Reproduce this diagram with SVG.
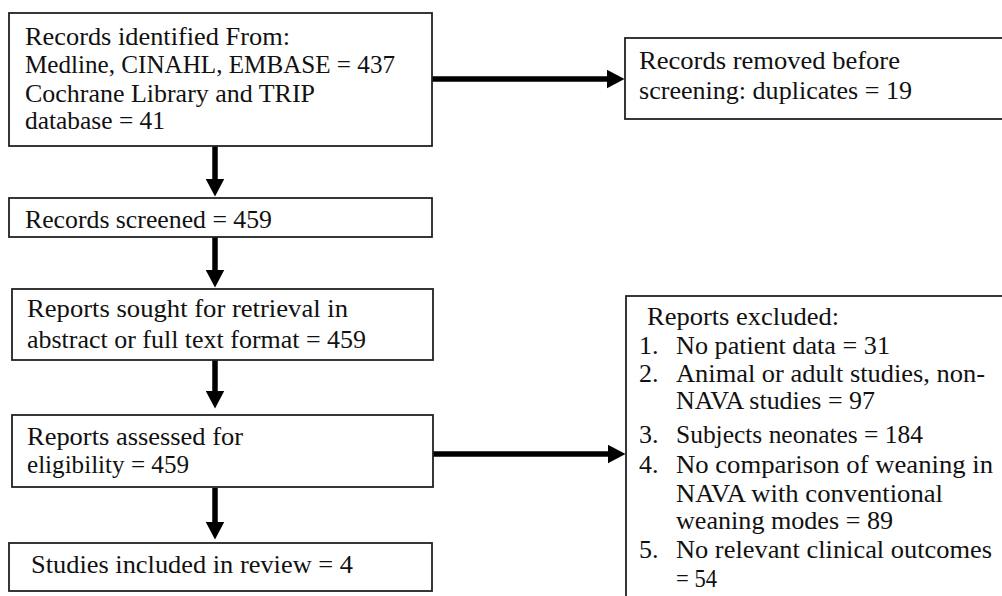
<svg xmlns="http://www.w3.org/2000/svg" width="1002" height="596" viewBox="0 0 1002 596">
<style>
.box{fill:#fff;stroke:#222;stroke-width:1.8}
.t{font-family:"Liberation Serif","Times New Roman",serif;font-size:26px;fill:#111}
.c{stroke:#000;stroke-width:5.5;fill:none}
</style>
<defs>
<marker id="ah" viewBox="0 0 18 19" refX="0.5" refY="9.5" markerWidth="18" markerHeight="19" markerUnits="userSpaceOnUse" orient="auto">
<path d="M0,0 L18,9.5 L0,19 Z" fill="#000"/>
</marker>
</defs>
<rect width="1002" height="596" fill="#fff"/>
<g id="connectors">
<line class="c" x1="215" y1="146" x2="215" y2="179" marker-end="url(#ah)"/>
<line class="c" x1="215" y1="237" x2="215" y2="270" marker-end="url(#ah)"/>
<line class="c" x1="215" y1="360" x2="215" y2="391" marker-end="url(#ah)"/>
<line class="c" x1="215" y1="488" x2="215" y2="522" marker-end="url(#ah)"/>
<line class="c" x1="432" y1="79" x2="607" y2="79" marker-end="url(#ah)"/>
<line class="c" x1="433" y1="454" x2="608" y2="454" marker-end="url(#ah)"/>
</g>
<g id="identified">
<rect class="box" x="9" y="13" width="423" height="133"/>
<text class="t" x="25" y="45" textLength="265" lengthAdjust="spacingAndGlyphs">Records identified From:</text>
<text class="t" x="25" y="73" textLength="370" lengthAdjust="spacingAndGlyphs">Medline, CINAHL, EMBASE = 437</text>
<text class="t" x="25" y="102" textLength="290" lengthAdjust="spacingAndGlyphs">Cochrane Library and TRIP</text>
<text class="t" x="25" y="129" textLength="140" lengthAdjust="spacingAndGlyphs">database = 41</text>
</g>
<g id="removed">
<rect class="box" x="625" y="38" width="390" height="81"/>
<text class="t" x="639" y="69" textLength="261" lengthAdjust="spacingAndGlyphs">Records removed before</text>
<text class="t" x="639" y="99" textLength="273" lengthAdjust="spacingAndGlyphs">screening: duplicates = 19</text>
</g>
<g id="screened">
<rect class="box" x="9" y="198" width="423" height="39"/>
<text class="t" x="25" y="228" textLength="247" lengthAdjust="spacingAndGlyphs">Records screened = 459</text>
</g>
<g id="sought">
<rect class="box" x="12" y="289" width="421" height="71"/>
<text class="t" x="27" y="317" textLength="321" lengthAdjust="spacingAndGlyphs">Reports sought for retrieval in</text>
<text class="t" x="27" y="348" textLength="339" lengthAdjust="spacingAndGlyphs">abstract or full text format = 459</text>
</g>
<g id="assessed">
<rect class="box" x="12" y="415" width="421" height="72"/>
<text class="t" x="27" y="445" textLength="216" lengthAdjust="spacingAndGlyphs">Reports assessed for</text>
<text class="t" x="27" y="473" textLength="162" lengthAdjust="spacingAndGlyphs">eligibility = 459</text>
</g>
<g id="included">
<rect class="box" x="9" y="543" width="423" height="48"/>
<text class="t" x="31" y="573" textLength="322" lengthAdjust="spacingAndGlyphs">Studies included in review = 4</text>
</g>
<g id="excluded">
<rect class="box" x="626" y="296" width="390" height="320"/>
<text class="t" x="647" y="325" textLength="192" lengthAdjust="spacingAndGlyphs">Reports excluded:</text>
<text class="t" x="639" y="354">1.</text>
<text class="t" x="676" y="354" textLength="214" lengthAdjust="spacingAndGlyphs">No patient data = 31</text>
<text class="t" x="639" y="382">2.</text>
<text class="t" x="676" y="382" textLength="309" lengthAdjust="spacingAndGlyphs">Animal or adult studies, non-</text>
<text class="t" x="676" y="409" textLength="199" lengthAdjust="spacingAndGlyphs">NAVA studies = 97</text>
<text class="t" x="639" y="443">3.</text>
<text class="t" x="676" y="443" textLength="247" lengthAdjust="spacingAndGlyphs">Subjects neonates = 184</text>
<text class="t" x="639" y="473">4.</text>
<text class="t" x="676" y="473" textLength="317" lengthAdjust="spacingAndGlyphs">No comparison of weaning in</text>
<text class="t" x="676" y="502" textLength="267" lengthAdjust="spacingAndGlyphs">NAVA with conventional</text>
<text class="t" x="676" y="529" textLength="217" lengthAdjust="spacingAndGlyphs">weaning modes = 89</text>
<text class="t" x="639" y="558">5.</text>
<text class="t" x="676" y="558" textLength="316" lengthAdjust="spacingAndGlyphs">No relevant clinical outcomes</text>
<text class="t" x="676" y="587" textLength="41" lengthAdjust="spacingAndGlyphs">= 54</text>
</g>
</svg>
